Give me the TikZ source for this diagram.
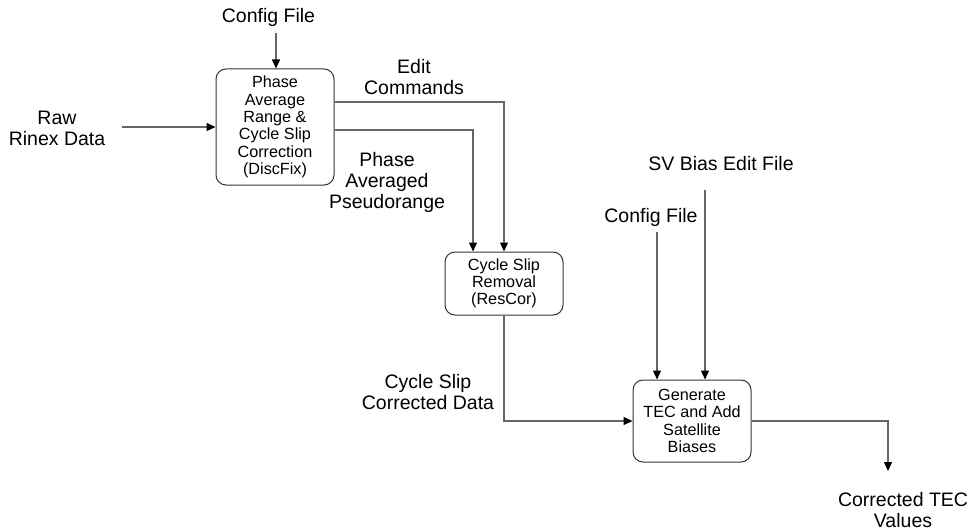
\documentclass[tikz,border=0pt]{standalone}
\usepackage{fontspec}
\setmainfont{Liberation Sans}
\usetikzlibrary{arrows.meta}

\begin{document}
\begin{tikzpicture}[
    x=0.5pt, y=-0.5pt,
    flow/.style={draw=black!60, line width=0.65pt, -{Triangle[length=4.5pt, width=4pt, color=black]}},
    proc/.style={draw=black!80, line width=0.5pt, rounded corners=5pt, inner sep=0pt,
        minimum width=59pt, align=center, font=\fontsize{8.1}{8.65}\selectfont},
    lbl/.style={align=center, font=\fontsize{9.75}{10.3}\selectfont}
    ]

    \useasboundingbox (0,0) rectangle (972,529);

    \node[proc, minimum height=58pt] (discfix) at (275,127)
        {Phase\\Average\\Range \&\\Cycle Slip\\Correction\\(DiscFix)};
    \node[proc, minimum height=31.5pt] (rescor) at (504,283.5)
        {Cycle Slip\\Removal\\(ResCor)};
    \node[proc, minimum height=41pt] (gentec) at (692,421)
        {Generate\\TEC and Add\\Satellite\\Biases};

    \node[lbl, anchor=base] (cfgTop) at (268.5,23) {Config File};
    \node[lbl] (rawLbl) at (57,128.5) {Raw\\Rinex Data};
    \node[lbl] (editLbl) at (414,77) {Edit\\Commands};
    \node[lbl] (phaseLbl) at (387,182.5) {Phase\\Averaged\\Pseudorange};
    \node[lbl] (slipLbl) at (428,392) {Cycle Slip\\Corrected Data};
    \node[lbl, anchor=base] (cfgBot) at (651,222) {Config File};
    \node[lbl, anchor=base] (svLbl) at (721,170) {SV Bias Edit File};
    \node[lbl] (tecLbl) at (903,510) {Corrected TEC\\Values};

    \coordinate (cfgIn) at (276,33);
    \coordinate (rawIn) at (122,127);
    \coordinate (cfg2In) at (657,232);
    \coordinate (svIn) at (705,190);
    \coordinate (tecOut) at (888,471);

    \draw[flow] (cfgIn) -- (cfgIn |- discfix.north);
    \draw[flow] (rawIn) -- (rawIn -| discfix.west);
    \draw[flow] ([yshift=12.5pt]discfix.east) -| (rescor.north);
    \draw[flow] ([yshift=-1.5pt]discfix.east) -| ([xshift=-15.5pt]rescor.north);
    \draw[flow] (rescor.south) |- (gentec.west);
    \draw[flow] (cfg2In) -- (cfg2In |- gentec.north);
    \draw[flow] (svIn) -- (svIn |- gentec.north);
    \draw[flow] (gentec.east) -| (tecOut);

\end{tikzpicture}
\end{document}
